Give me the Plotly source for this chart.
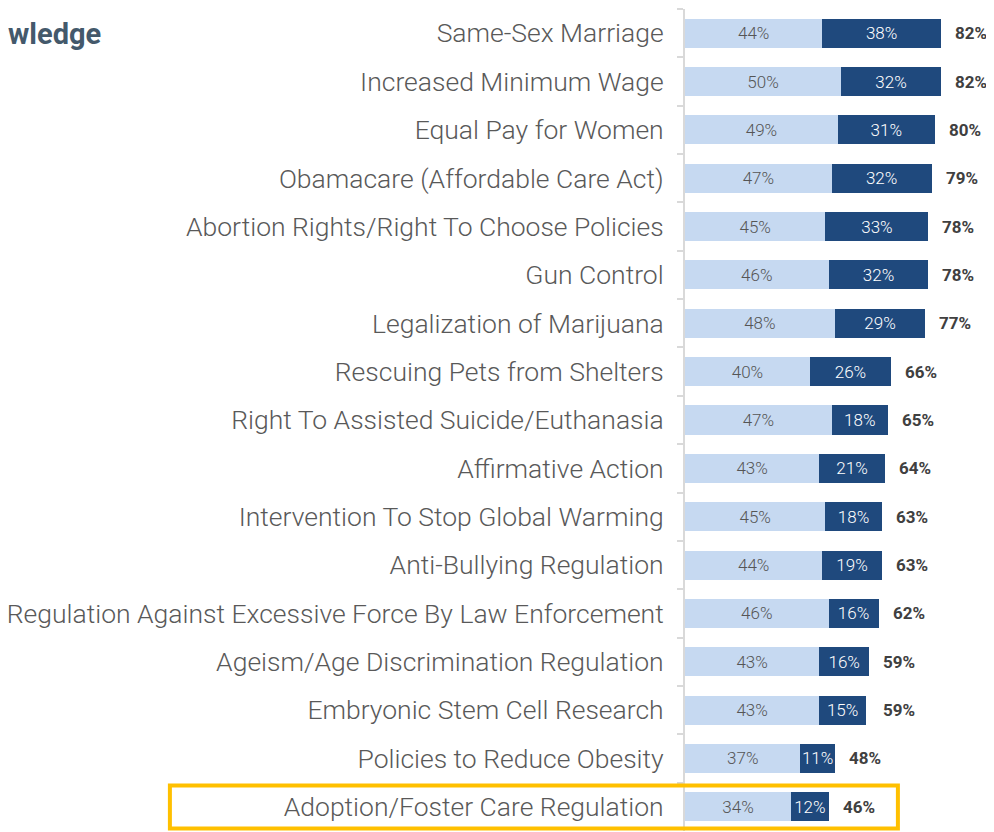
import plotly.graph_objects as go

categorias = [
    "Same-Sex Marriage",
    "Increased Minimum Wage",
    "Equal Pay for Women",
    "Obamacare (Affordable Care Act)",
    "Abortion Rights/Right To Choose Policies",
    "Gun Control",
    "Legalization of Marijuana",
    "Rescuing Pets from Shelters",
    "Right To Assisted Suicide/Euthanasia",
    "Affirmative Action",
    "Intervention To Stop Global Warming",
    "Anti-Bullying Regulation",
    "Regulation Against Excessive Force By Law Enforcement",
    "Ageism/Age Discrimination Regulation",
    "Embryonic Stem Cell Research",
    "Policies to Reduce Obesity",
    "Adoption/Foster Care Regulation",
]
parte_clara = [44, 50, 49, 47, 45, 46, 48, 40, 47, 43, 45, 44, 46, 43, 43, 37, 34]
parte_oscura = [38, 32, 31, 32, 33, 32, 29, 26, 18, 21, 18, 19, 16, 16, 15, 11, 12]
totales = [82, 82, 80, 79, 78, 78, 77, 66, 65, 64, 63, 63, 62, 59, 59, 48, 46]
destacado = "Adoption/Foster Care Regulation"

AZUL_CLARO = "#c6d9f1"
AZUL_OSCURO = "#1f497d"

fig = go.Figure()
fig.add_trace(
    go.Bar(
        y=categorias,
        x=parte_clara,
        orientation="h",
        marker={"color": AZUL_CLARO, "line": {"width": 0}},
        text=[f"{v}%" for v in parte_clara],
        textposition="inside",
        insidetextanchor="middle",
        textangle=0,
        constraintext="none",
        textfont={"family": "Roboto", "size": 17, "color": "#555555", "weight": 300},
        hoverinfo="skip",
    )
)
fig.add_trace(
    go.Bar(
        y=categorias,
        x=parte_oscura,
        orientation="h",
        marker={"color": AZUL_OSCURO, "line": {"width": 0}},
        text=[f"{v}%" for v in parte_oscura],
        textposition="inside",
        insidetextanchor="middle",
        textangle=0,
        constraintext="none",
        textfont={"family": "Roboto", "size": 17, "color": "#ffffff", "weight": 300},
        hoverinfo="skip",
    )
)

for cat, tot in zip(categorias, totales):
    fig.add_annotation(
        x=tot,
        y=cat,
        text=f"<b>{tot}%</b>",
        showarrow=False,
        xanchor="left",
        xshift=12,
        font={"family": "Roboto", "size": 17, "color": "#404040"},
    )

# recuadro amarillo alrededor de la fila destacada
idx = categorias.index(destacado)
fig.add_shape(
    type="rect",
    xref="paper",
    yref="y",
    x0=-1.667,
    x1=0.689,
    y0=idx - 0.44,
    y1=idx + 0.45,
    line={"color": "#ffc000", "width": 4},
    layer="above",
)

fig.add_annotation(
    xref="paper",
    yref="paper",
    x=-1.883,
    y=0.969,
    text="<b>wledge</b>",
    showarrow=False,
    xanchor="right",
    yanchor="middle",
    font={"family": "Roboto", "size": 29, "color": "#44596b"},
)

fig.update_layout(
    barmode="stack",
    bargap=0.4,
    width=986,
    height=824,
    margin={"l": 677, "r": 0, "t": 1, "b": 1},
    plot_bgcolor="white",
    paper_bgcolor="white",
    showlegend=False,
    xaxis={"range": [0, 99], "visible": False},
    yaxis={
        "categoryorder": "array",
        "categoryarray": categorias,
        "range": [len(categorias) - 0.5, -0.5],
        "showline": True,
        "linecolor": "#d9d9d9",
        "linewidth": 2,
        "ticks": "outside",
        "tickson": "boundaries",
        "ticklen": 6,
        "tickcolor": "#d9d9d9",
        "tickwidth": 2,
        "showgrid": False,
        "ticklabelstandoff": 14,
        "tickfont": {"family": "Roboto", "size": 26.5, "color": "#595959", "weight": 300},
    },
)

fig.write_html("out.html")
